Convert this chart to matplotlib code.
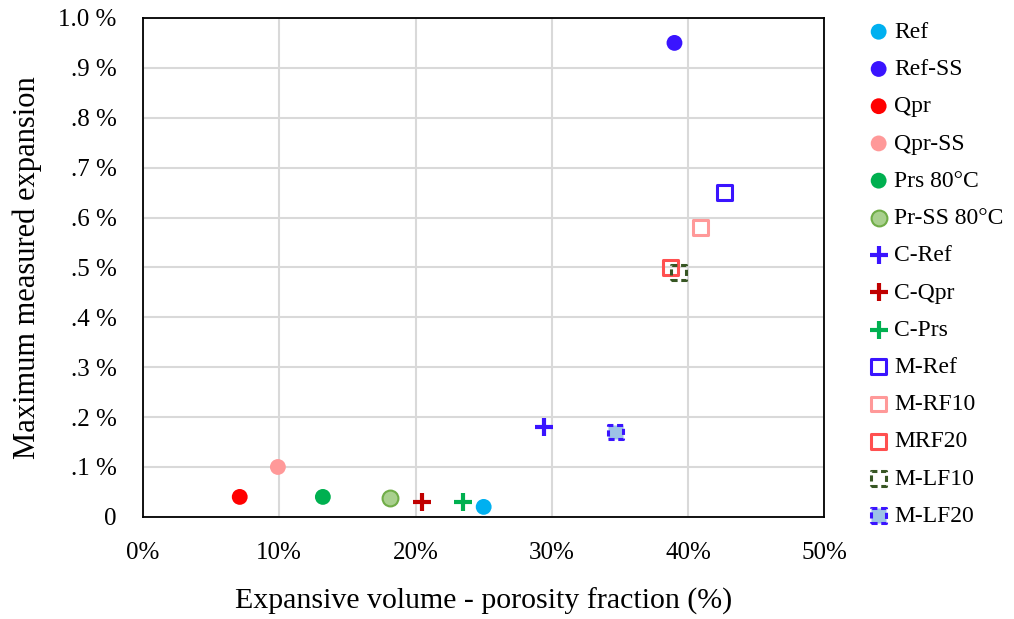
import matplotlib
matplotlib.use("Agg")
import matplotlib.pyplot as plt
from matplotlib.ticker import FuncFormatter, MultipleLocator

plt.rcParams['font.family'] = ['Liberation Serif', 'DejaVu Serif']

labels = ["Ref", "Ref-SS", "Qpr", "Qpr-SS", "Prs 80°C", "Pr-SS 80°C",
          "C-Ref", "C-Qpr", "C-Prs", "M-Ref", "M-RF10", "MRF20", "M-LF10", "M-LF20"]
x_vals = [25.0, 39.0, 7.1, 9.9, 13.2, 18.1, 29.4, 20.5, 23.5, 42.7, 40.9, 38.7, 39.3, 34.7]
y_vals = [0.02, 0.95, 0.04, 0.10, 0.04, 0.037, 0.18, 0.03, 0.03, 0.65, 0.58, 0.50, 0.49, 0.17]

styles = [
    dict(marker='o', s=130, c='#00B0F0', edgecolors='none'),
    dict(marker='o', s=130, c='#3A14FF', edgecolors='none'),
    dict(marker='o', s=130, c='#FF0000', edgecolors='none'),
    dict(marker='o', s=130, c='#FF9999', edgecolors='none'),
    dict(marker='o', s=130, c='#00B050', edgecolors='none'),
    dict(marker='o', s=130, c='#A9D08E', edgecolors='#70AD47', linewidths=1.5),
    dict(marker='+', s=170, c='#3A14FF', linewidths=3),
    dict(marker='+', s=170, c='#C00000', linewidths=3),
    dict(marker='+', s=170, c='#00B050', linewidths=3),
    dict(marker='s', s=115, facecolors='none', edgecolors='#3A14FF', linewidths=2.2),
    dict(marker='s', s=115, facecolors='none', edgecolors='#FF9999', linewidths=2.2),
    dict(marker='s', s=115, facecolors='none', edgecolors='#FF5050', linewidths=2.2),
    dict(marker='s', s=115, facecolors='none', edgecolors='#375623', linewidths=2.2, linestyle=(0, (2, 1.2))),
    dict(marker='s', s=115, facecolors='#9DC3E6', edgecolors='#3A14FF', linewidths=2.2, linestyle=(0, (2, 1.2))),
]

fig = plt.figure(figsize=(10.14, 6.19), dpi=100)
ax = fig.add_axes([0.141, 0.165, 0.672, 0.806])

for xv, yv, lab, st in zip(x_vals, y_vals, labels, styles):
    ax.scatter([xv], [yv], label=lab, zorder=3, **st)

ax.set_xlim(0, 50)
ax.set_ylim(0, 1.0)
ax.xaxis.set_major_locator(MultipleLocator(10))
ax.yaxis.set_major_locator(MultipleLocator(0.1))
ax.xaxis.set_major_formatter(FuncFormatter(lambda v, p: f"{v:.0f}%"))

def yfmt(v, p):
    if abs(v) < 1e-9:
        return "0"
    if abs(v - 1.0) < 1e-9:
        return "1.0 %"
    return f".{int(round(v * 10))} %"

ax.yaxis.set_major_formatter(FuncFormatter(yfmt))
ax.grid(True, color='#D9D9D9', linewidth=1.5, zorder=0)
ax.set_axisbelow(True)
ax.tick_params(length=0, labelsize=18)
ax.tick_params(axis='y', pad=19)
ax.tick_params(axis='x', pad=18)
for sp in ax.spines.values():
    sp.set_color('black')
    sp.set_linewidth(1.3)

ax.set_xlabel("Expansive volume - porosity fraction (%)", fontsize=21.5, labelpad=17)
ax.set_ylabel("Maximum measured expansion", fontsize=22, labelpad=12)

leg = ax.legend(loc='upper left', bbox_to_anchor=(1.045, 1.012), frameon=False,
                fontsize=17, handletextpad=0.05, labelspacing=0.665,
                handlelength=1.2, borderaxespad=0)

fig.savefig("out.png", dpi=100)
